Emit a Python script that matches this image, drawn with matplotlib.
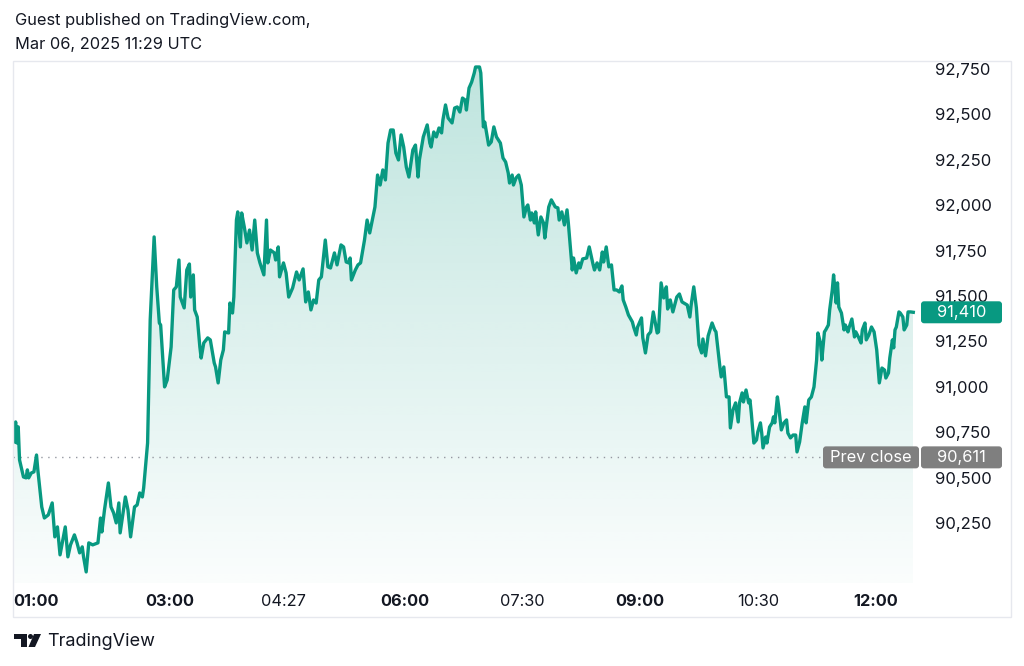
import numpy as np
import matplotlib
matplotlib.use("Agg")
import matplotlib.pyplot as plt
from matplotlib.patches import FancyBboxPatch, Rectangle, Polygon, Ellipse

plt.rcParams['font.family'] = ['Inter', 'DejaVu Sans']

# ---- data: minutes after 00:00 (chart time) and price ----
minutes = [
    61, 62, 63, 64, 65, 68, 70, 71, 72, 74, 76, 78, 79, 82, 84, 87, 90, 91, 92, 94,
    96, 100, 102, 104, 107, 109, 111, 113, 114, 116, 118, 121, 125, 127, 128, 130,
    133, 135, 137, 139, 141, 142, 146, 148, 150, 153, 155, 157, 159, 160, 162, 163,
    165, 168, 170, 172, 173, 176, 178, 181, 183, 185, 187, 188, 191, 193, 195, 196,
    198, 199, 201, 203, 204, 206, 209, 211, 214, 215, 217, 219, 221, 222, 225, 226,
    228, 229, 231, 232, 234, 235, 237, 239, 241, 243, 245, 247, 249, 252, 254, 255,
    257, 260, 261, 263, 264, 267, 269, 271,
    274, 277, 279, 282, 284, 286, 288, 290, 292, 294, 296, 299, 301, 303, 306, 308,
    311, 313, 315, 317, 318, 319, 322, 324, 326, 329, 331, 333, 335, 337, 339, 341,
    343, 345, 347, 349, 351, 353, 355, 357, 359, 361, 363, 366, 368, 370, 371,
    374, 377, 379, 380, 382, 384, 386, 388, 389, 391, 393, 396, 398, 400, 402, 404,
    406, 407, 409, 411, 413, 414, 417, 418, 420, 421, 424, 426, 428, 430, 433, 435,
    437, 439, 440, 442, 443, 445, 447, 449, 451, 453, 454, 456, 457, 459, 460, 462,
    464, 466, 467, 470, 472, 475, 477, 478, 480, 482, 484, 485,
    488, 489, 491, 493, 494, 496, 499, 501, 504, 505, 507, 509, 511, 512, 514, 516,
    518, 520, 522, 524, 526, 527, 529, 531, 534, 535, 537, 538, 541, 542, 544, 546,
    548, 550, 553, 554, 556, 558, 560, 561, 563, 565, 568, 570, 572, 576, 578, 579,
    581, 583, 585, 587, 588, 590, 592, 595, 597, 598,
    601, 602, 604, 606, 608, 609, 611, 613, 615, 616, 618, 619, 621, 623, 624, 625,
    627, 629, 630, 632, 633, 634, 636, 637, 639, 641, 642, 643, 645, 646, 648, 650,
    652, 653, 655, 657, 659, 660, 662, 664, 666, 667, 669, 671, 673, 675, 676, 678,
    679, 681, 682, 684, 685, 687, 688, 690, 691, 692, 694, 696, 697, 699, 700, 702,
    704, 705, 707, 709, 710, 712, 713, 715, 717, 719, 721, 723, 725, 727, 728, 730,
    731, 733, 734, 735, 736, 738, 739, 741, 742, 744, 745, 747, 749,
]
prices = [
    90696, 90806, 90690, 90779, 90597, 90503, 90498, 90542, 90498, 90525, 90531, 90624,
    90542, 90338, 90277, 90294, 90360, 90266, 90173, 90228, 90074, 90228, 90063, 90129,
    90184, 90140, 90085, 90118, 90063, 89980, 90140, 90129, 90140, 90277, 90200, 90321,
    90470, 90338, 90305, 90250, 90360, 90195, 90393, 90321, 90173, 90338, 90349, 90415,
    90393, 90443, 90608, 90690,
    91368, 91825, 91550, 91351, 91340, 90999, 91037, 91219, 91533, 91550, 91698, 91494,
    91434, 91643, 91676, 91494, 91616, 91423, 91384, 91219, 91158, 91241, 91269, 91258,
    91131, 91109, 91021, 91147, 91203, 91302, 91296, 91461, 91406, 91494, 91918, 91963,
    91770, 91957, 91880, 91792, 91863, 91753, 91918, 91737, 91682, 91616, 91918, 91682,
    91753, 91737, 91698, 91770, 91605, 91682, 91627, 91494,
    91544, 91632, 91588, 91649, 91467, 91522, 91423, 91478, 91461, 91588, 91605, 91808,
    91660, 91654, 91737, 91671, 91781, 91770, 91687, 91682, 91709, 91588, 91643, 91671,
    91682, 91808, 91918, 91847, 91918, 91990, 92166, 92111, 92194, 92139, 92342, 92414,
    92414, 92287, 92249, 92387, 92320, 92210, 92155, 92304, 92331, 92155, 92249,
    92376, 92442, 92342, 92320, 92403, 92376, 92425, 92398, 92469, 92552, 92480, 92453,
    92535, 92541, 92513, 92590, 92579, 92524, 92645, 92678, 92728, 92761, 92761, 92728,
    92431, 92458, 92331, 92348, 92431, 92376, 92342, 92260, 92238, 92177, 92122, 92166,
    92111, 92150, 92166, 92111, 91935, 91990, 92001, 91918, 91957, 91902, 91963, 91836,
    91935, 91902, 91819, 91990, 92029, 91990, 91985, 91918, 91963, 91891, 91974, 91902,
    91643, 91709, 91627, 91682, 91654, 91704, 91709, 91770, 91671, 91643, 91682, 91643,
    91742, 91687, 91770, 91660, 91671, 91533, 91533, 91522, 91555, 91478, 91439, 91395,
    91357, 91329, 91285, 91329, 91379, 91269, 91186, 91285, 91302, 91412, 91296, 91302,
    91572, 91489, 91550, 91428, 91478, 91412, 91494, 91511, 91467, 91450, 91384, 91450,
    91550, 91434, 91230, 91186, 91263, 91170, 91280, 91351, 91313, 91302,
    91109, 91054, 91109, 90944, 90944, 90773, 90872, 90911, 90806, 90911, 90966, 90916,
    90982, 90911, 90927, 90856, 90690, 90707, 90751, 90801, 90745, 90663, 90723, 90690,
    90778, 90801, 90834, 90801, 90944, 90889, 90762, 90801, 90817, 90745, 90718, 90734,
    90734, 90641, 90696, 90801, 90889, 90801, 90927, 90944, 90999, 91147, 91296, 91241,
    91147, 91302, 91313, 91340, 91423, 91533, 91616, 91461, 91572, 91439, 91406, 91313,
    91340, 91302, 91329, 91373, 91274, 91302, 91274, 91241, 91313, 91351, 91258, 91285,
    91329, 91302, 91203, 91021, 91103, 91092, 91048, 91076, 91158, 91258, 91214, 91313,
    91329, 91412, 91406, 91384, 91313, 91340, 91412, 91412, 91410,
]
prev_close = 90611

y_ticks = [90250, 90500, 90750, 91000, 91250, 91500, 91750, 92000, 92250, 92500, 92750]
x_ticks = [60, 180, 267, 360, 450, 540, 630, 720]
x_labels = ["01:00", "03:00", "04:27", "06:00", "07:30", "09:00", "10:30", "12:00"]
x_bold = [True, True, False, True, False, True, False, True]

LINE = '#089981'
TEXT = '#131722'
GRAY = '#7f7f7f'

W, H = 1024, 666
fig = plt.figure(figsize=(W / 100, H / 100), dpi=100)


def fx(px):
    return px / W


def fy(py):
    return 1 - py / H


ax = fig.add_axes([fx(13), fy(583), fx(918) - fx(13), fy(61) - fy(583)])
ax.patch.set_alpha(0)
ylo, yhi = 89919, 92794

t = np.array(minutes, dtype=float)
p = np.array(prices, dtype=float)

# gradient area under the line
fill = ax.fill_between(t, p, ylo, facecolor='none', edgecolor='none')
grad = np.zeros((256, 1, 4))
grad[..., 0], grad[..., 1], grad[..., 2] = 8 / 255, 153 / 255, 129 / 255
grad[:, 0, 3] = np.linspace(0.26, 0.02, 256)
im = ax.imshow(grad, extent=[t[0], t[-1], ylo, p.max()], aspect='auto',
               origin='upper', zorder=1, interpolation='bilinear')
im.set_clip_path(fill.get_paths()[0], transform=ax.transData)

ax.plot(t, p, color=LINE, lw=2.4, solid_joinstyle='round', zorder=3)

ax.set_xlim(60, 752.6)
ax.set_ylim(ylo, yhi)

# prev close dotted line
ax.plot([60, 60 + (823 - 13) * 0.7653], [prev_close, prev_close], color='#9598a1',
        lw=1, linestyle=(0, (1, 4)), zorder=2)

for s in ax.spines.values():
    s.set_visible(False)

ax.yaxis.tick_right()
ax.set_yticks(y_ticks)
ax.set_yticklabels([f"{v:,}" for v in y_ticks])
ax.tick_params(axis='y', length=0, pad=12, labelsize=12, labelcolor=TEXT)

ax.set_xticks(x_ticks)
ax.set_xticklabels(x_labels)
ax.tick_params(axis='x', length=0, pad=8, labelsize=11.8, labelcolor=TEXT)
for lab, b in zip(ax.get_xticklabels(), x_bold):
    lab.set_fontweight('bold' if b else 'normal')
ax.get_xticklabels()[0].set_horizontalalignment('left')

# outer frame
fig.patches.append(Rectangle((fx(13), fy(617)), fx(1011) - fx(13), fy(61) - fy(617),
                             transform=fig.transFigure, fill=False,
                             edgecolor='#e6e8ee', lw=1, zorder=0))


def yfrac(v):
    return fig.transFigure.inverted().transform(ax.transData.transform((60, v)))[1]


def badge(x0, x1, yc, color, text):
    h = 22 / H
    box = FancyBboxPatch((fx(x0), yc - h / 2), fx(x1) - fx(x0), h,
                         boxstyle="round,pad=0,rounding_size=0.003",
                         transform=fig.transFigure, facecolor=color,
                         edgecolor='none', zorder=5, mutation_aspect=W / H)
    fig.patches.append(box)
    fig.text(fx((x0 + x1) / 2), yc, text, color='white', fontsize=11.8,
             ha='center', va='center', zorder=6)


badge(921, 1002, yfrac(prices[-1]), LINE, f"{prices[-1]:,}")
badge(823, 919, yfrac(prev_close), GRAY, "Prev close")
badge(921, 1002, yfrac(prev_close), GRAY, f"{prev_close:,}")

# header
fig.text(fx(15), fy(20), "Guest published on TradingView.com,", fontsize=11.8,
         color=TEXT, va='center', ha='left')
fig.text(fx(15), fy(45), "Mar 06, 2025 11:29 UTC", fontsize=11.8,
         color=TEXT, va='center', ha='left')

# TradingView logo
logo_t = [(14, 634), (27, 634), (27, 647), (21, 647), (21, 639), (14, 639)]
fig.patches.append(Polygon([(fx(a), fy(b)) for a, b in logo_t], closed=True,
                           transform=fig.transFigure, facecolor=TEXT, edgecolor='none'))
fig.patches.append(Ellipse((fx(30.5), fy(636.5)), 5 / W, 5 / H,
                           transform=fig.transFigure, facecolor=TEXT, edgecolor='none'))
logo_s = [(34, 634), (41, 634), (35, 647), (28.5, 647)]
fig.patches.append(Polygon([(fx(a), fy(b)) for a, b in logo_s], closed=True,
                           transform=fig.transFigure, facecolor=TEXT, edgecolor='none'))
fig.text(fx(47), fy(641), "TradingView", fontsize=13, color=TEXT,
         va='center', ha='left')

fig.savefig('out.png', dpi=100, facecolor='white')
